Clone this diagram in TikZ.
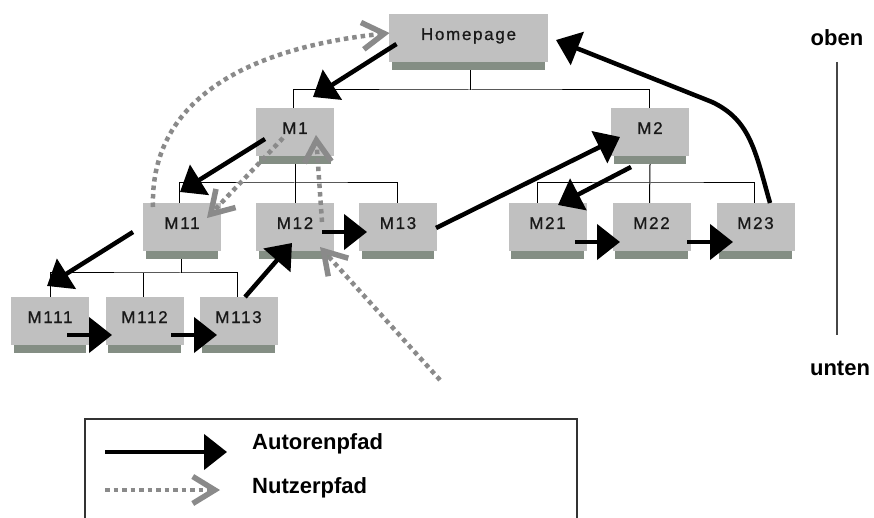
\documentclass[tikz,border=0pt]{standalone}
\usepackage{fontspec}
\setmainfont{Liberation Sans}
\newfontfamily\boxfont[LetterSpace=10,FakeBold=0.8]{Liberation Sans}
\usetikzlibrary{arrows.meta,calc}
\definecolor{boxgray}{RGB}{192,192,192}
\definecolor{stripgray}{RGB}{132,142,132}
\definecolor{usergray}{RGB}{138,138,138}
\definecolor{axisgray}{RGB}{70,70,70}
\tikzset{
  pbox/.style={fill=boxgray, minimum width=78pt, minimum height=48pt, inner sep=0pt,
    text height=12pt, text depth=8pt, font=\boxfont\fontsize{17}{17}\selectfont, text=black!90},
  tree/.style={line width=1pt, black},
  auth/.style={line width=4.5pt, black, -{Triangle[length=23pt,width=35pt]}},
  user/.style={usergray, line width=4.5pt, dash pattern=on 4.5pt off 4pt,
    -{Straight Barb[length=22pt,width=27pt,line width=5.5pt]}},
  lbl/.style={font=\bfseries\fontsize{22}{22}\selectfont, text=black, inner sep=0pt},
}
\newcommand\mkbox[5][78pt]{%
  \node[pbox, minimum width=#1] (#2) at (#3,#4) {#5};
  \fill[stripgray] ([xshift=3pt]#2.south west) rectangle ([xshift=-3pt,yshift=-8pt]#2.south east);
}
\begin{document}
\begin{tikzpicture}[x=1pt,y=-1pt]
\useasboundingbox (0,0) rectangle (874,518);
\fill[white] (0,0) rectangle (874,518);

% boxes
\mkbox[159pt]{hp}{468.5}{38}{Homepage}
\mkbox{m1}{295}{132}{M1}
\mkbox{m2}{650}{132}{M2}
\mkbox{m11}{182}{227}{M11}
\mkbox{m12}{295}{227}{M12}
\mkbox{m13}{398}{227}{M13}
\mkbox{m21}{547.5}{227}{M21}
\mkbox{m22}{651.5}{227}{M22}
\mkbox{m23}{755.5}{227}{M23}
\mkbox{m111}{50}{321}{M111}
\mkbox{m112}{144.5}{321}{M112}
\mkbox{m113}{238.5}{321}{M113}

% tree
\coordinate (bh) at (470,90);
\coordinate (b1) at (295,183);
\coordinate (b2) at (650,183);
\coordinate (b3) at (181,273);
\draw[tree] ([xshift=1.5pt,yshift=-8pt]hp.south) -- (bh);
\draw[tree] ([xshift=-2pt]m1.north) |- (bh) -| ([xshift=-1pt]m2.north);
\draw[tree] ([yshift=-8pt]m1.south) -- (m12.north);
\draw[tree] ([xshift=-3pt]m11.north) |- (b1) -| ([xshift=-1pt]m13.north);
\draw[tree] ([yshift=-8pt]m2.south) -- ([xshift=-2pt]m22.north);
\draw[tree] ([xshift=-10pt]m21.north) |- (b2) -| ([xshift=-1pt]m23.north);
\draw[tree] ([xshift=-1pt,yshift=-8pt]m11.south) -- (b3);
\draw[tree] (m111.north) |- (b3) -| ([xshift=-1.5pt]m113.north);
\draw[tree] ([xshift=-1.5pt]m112.north) -- ([xshift=-1.5pt]m112.north |- b3);

% author path
\draw[auth] ($(hp)+(-72,6)$) -- ($(m1)+(18,-35)$);
\draw[auth] ($(m1)+(-30,7)$) -- ($(m11)+(-2,-35)$);
\draw[auth] ($(m11)+(-49,5)$) -- ($(m111)+(-3,-35)$);
\draw[auth] ($(m111)+(17,14)$) -- ($(m112)+(-32.5,14)$);
\draw[auth] ($(m112)+(26.5,14)$) -- ($(m113)+(-21.5,14)$);
\draw[auth] ($(m113)+(6.5,-24)$) -- ($(m12)+(-3,16)$);
\draw[auth] ($(m12)+(27,5)$) -- ($(m13)+(-31,5)$);
\draw[auth] ($(m13)+(38,1)$) -- ($(m2)+(-30,5)$);
\draw[auth] ($(m2)+(-19,35)$) -- ($(m21)+(10.5,-22)$);
\draw[auth] ($(m21)+(27.5,15)$) -- ($(m22)+(-31.5,15)$);
\draw[auth] ($(m22)+(35.5,15)$) -- ($(m23)+(-22.5,15)$);
\draw[auth] ($(m23)+(14.5,-24)$) .. controls (755,150) and (750,120) .. (712,102) -- ($(hp)+(87.5,2)$);

% user path
\coordinate (ustart) at (440,380);
\draw[user] ($(m11)+(-29,-20)$) .. controls (150,110) and (230,50) .. ($(hp)+(-79,-5)$);
\draw[user] ($(m1)+(-12,6)$) -- ($(m11)+(25,-9)$);
\draw[user] ($(m12)+(27,-5)$) -- ($(m1)+(21,3)$);
\draw[user] (ustart) -- ($(m12)+(25,20)$);

% axis
\node[lbl] (oben) at (837,38) {oben};
\node[lbl] (unten) at (840,368) {unten};
\draw[axisgray, line width=1.5pt, shorten <=24pt, shorten >=33pt] (837,38) -- (837,368);

% legend
\draw[line width=1.5pt, black!80] (85,530) -- (85,419) -- (577,419) -- (577,530);
\coordinate (la1) at (105,452);
\coordinate (la2) at (227,452);
\coordinate (lu1) at (105,490);
\coordinate (lu2) at (220,490);
\draw[auth] (la1) -- (la2);
\draw[user] (lu1) -- (lu2);
\node[lbl, anchor=west] (lauth) at (252,444) {Autorenpfad};
\node[lbl, anchor=west] (luser) at (252,488) {Nutzerpfad};
\end{tikzpicture}
\end{document}
